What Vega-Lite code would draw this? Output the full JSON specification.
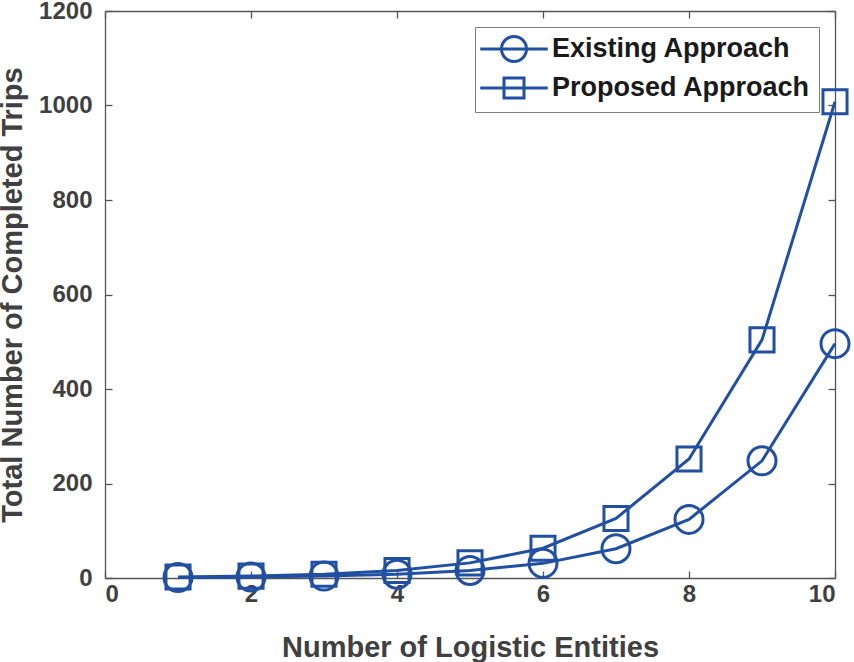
{
  "$schema": "https://vega.github.io/schema/vega-lite/v6.json",
  "width": 730,
  "height": 567,
  "autosize": "none",
  "padding": {"left": 105, "top": 11, "right": 19, "bottom": 84},
  "background": "white",
  "data": {
    "values": [
      {"entities": 1, "trips": 1, "approach": "Existing Approach"},
      {"entities": 2, "trips": 2, "approach": "Existing Approach"},
      {"entities": 3, "trips": 4, "approach": "Existing Approach"},
      {"entities": 4, "trips": 8, "approach": "Existing Approach"},
      {"entities": 5, "trips": 16, "approach": "Existing Approach"},
      {"entities": 6, "trips": 31, "approach": "Existing Approach"},
      {"entities": 7, "trips": 62, "approach": "Existing Approach"},
      {"entities": 8, "trips": 124, "approach": "Existing Approach"},
      {"entities": 9, "trips": 248, "approach": "Existing Approach"},
      {"entities": 10, "trips": 496, "approach": "Existing Approach"},
      {"entities": 1, "trips": 2, "approach": "Proposed Approach"},
      {"entities": 2, "trips": 4, "approach": "Proposed Approach"},
      {"entities": 3, "trips": 8, "approach": "Proposed Approach"},
      {"entities": 4, "trips": 16, "approach": "Proposed Approach"},
      {"entities": 5, "trips": 32, "approach": "Proposed Approach"},
      {"entities": 6, "trips": 63, "approach": "Proposed Approach"},
      {"entities": 7, "trips": 126, "approach": "Proposed Approach"},
      {"entities": 8, "trips": 252, "approach": "Proposed Approach"},
      {"entities": 9, "trips": 504, "approach": "Proposed Approach"},
      {"entities": 10, "trips": 1008, "approach": "Proposed Approach"}
    ]
  },
  "layer": [
    {
      "mark": {"type": "line", "color": "#2150a2", "strokeWidth": 3},
      "encoding": {
        "x": {
          "field": "entities", "type": "quantitative",
          "scale": {"domain": [0, 10], "nice": false},
          "axis": {"orient": "bottom", "values": [0, 2, 4, 6, 8, 10], "format": "d", "title": "Number of Logistic Entities", "labelPadding": 11, "titlePadding": 27}
        },
        "y": {
          "field": "trips", "type": "quantitative",
          "scale": {"domain": [0, 1200], "nice": false},
          "axis": {"orient": "left", "values": [0, 200, 400, 600, 800, 1000, 1200], "format": "d", "title": "Total Number of Completed Trips", "labelPadding": 20, "titlePadding": 11}
        },
        "detail": {"field": "approach"}
      }
    },
    {
      "transform": [{"filter": "datum.approach === 'Existing Approach'"}],
      "mark": {"type": "point", "shape": "circle", "filled": false, "color": "#2150a2", "strokeWidth": 3, "opacity": 1, "size": 784},
      "encoding": {
        "x": {"field": "entities", "type": "quantitative", "axis": null},
        "y": {"field": "trips", "type": "quantitative", "axis": null}
      }
    },
    {
      "transform": [{"filter": "datum.approach === 'Proposed Approach'"}],
      "mark": {"type": "point", "shape": "M-0.86,-0.86H0.86V0.86H-0.86Z", "filled": false, "color": "#2150a2", "strokeWidth": 3, "opacity": 1, "size": 784},
      "encoding": {
        "x": {
          "field": "entities", "type": "quantitative",
          "axis": {"orient": "top", "values": [0, 2, 4, 6, 8, 10], "labels": false, "title": null}
        },
        "y": {
          "field": "trips", "type": "quantitative",
          "axis": {"orient": "right", "values": [0, 200, 400, 600, 800, 1000, 1200], "labels": false, "title": null}
        }
      }
    },
    {
      "transform": [{"filter": "datum.trips < 0"}],
      "mark": {"type": "point", "filled": false, "color": "#2150a2", "strokeWidth": 3, "opacity": 1, "size": 625},
      "encoding": {
        "x": {"field": "entities", "type": "quantitative", "axis": null},
        "y": {"field": "trips", "type": "quantitative", "axis": null},
        "shape": {
          "field": "approach", "type": "nominal",
          "scale": {
            "domain": ["Existing Approach", "Proposed Approach"],
            "range": ["M-2.7,0H2.7M1,0A1,1 0 1,1 -1,0A1,1 0 1,1 1,0", "M-2.7,0H2.7M-0.8,-0.8H0.8V0.8H-0.8Z"]
          },
          "legend": {
            "title": null,
            "orient": "top-right",
            "offset": 16,
            "padding": 8,
            "strokeColor": "#7f7f7f",
            "fillColor": "white",
            "labelFont": "Liberation Sans",
            "labelFontSize": 27,
            "labelFontWeight": "bold",
            "labelColor": "#1a1a1a",
            "symbolSize": 625,
            "symbolOffset": 17,
            "labelOffset": 24,
            "rowPadding": 4,
            "symbolStrokeWidth": 3,
            "symbolStrokeColor": "#2150a2",
            "symbolFillColor": "transparent",
            "symbolOpacity": 1,
            "labelLimit": 400
          }
        }
      }
    }
  ],
  "resolve": {"axis": {"x": "independent", "y": "independent"}},
  "config": {
    "view": {"stroke": null},
    "axis": {
      "grid": false,
      "labelFont": "Liberation Sans",
      "labelFontSize": 24,
      "labelFontWeight": "bold",
      "labelColor": "#404040",
      "titleFont": "Liberation Sans",
      "titleFontSize": 29,
      "titleFontWeight": "bold",
      "titleColor": "#404040",
      "domainColor": "#555555",
      "domainWidth": 1.3,
      "tickColor": "#555555",
      "tickWidth": 1.3,
      "tickSize": -7
    }
  }
}
